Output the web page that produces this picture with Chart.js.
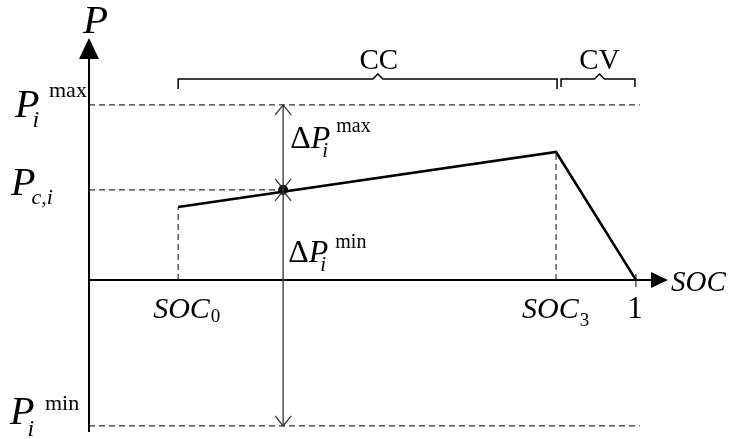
<!DOCTYPE html>
<html>
<head>
<meta charset="utf-8">
<script src="https://cdn.jsdelivr.net/npm/chart.js@4"></script>
<style>
  html, body { margin: 0; padding: 0; background: #fff; }
  #wrap { width: 729px; height: 439px; }
</style>
</head>
<body>
<div id="wrap"><canvas id="c" width="729" height="439"></canvas></div>
<script>
// ---- data ----
const socValues   = [0.163, 0.854, 1.0];   // SOC0, SOC3, 1
const powerValues = [0.417, 0.731, 0.0];   // charging power profile
const socC = 0.355;                        // operating point SOC
const pC   = 0.515;                        // P_c,i
const pMax = 1.0;                          // P_i^max
const pMin = -0.834;                       // P_i^min
const xTickLabels = ['SOC', 'SOC', '1'];
const xTickSubs   = ['0', '3', ''];
const phaseLabels = ['CC', 'CV'];

const X_MIN = 0, X_MAX = 1.055, Y_MIN = -0.869, Y_MAX = 1.371;

const serif = '"Liberation Serif", "Times New Roman", serif';
const F = (size, italic) => (italic ? 'italic ' : '') + size + 'px ' + serif;

const dashStyle = { borderColor: '#333', borderWidth: 1.2, borderDash: [6, 4], pointRadius: 0, fill: false, showLine: true };

const overlay = {
  id: 'overlay',
  afterDatasetsDraw(chart) {
    const ctx = chart.ctx;
    const xs = chart.scales.x, ys = chart.scales.y;
    const X = v => xs.getPixelForValue(v), Y = v => ys.getPixelForValue(v);
    const x0 = X(0), y0 = Y(0);
    ctx.save();
    ctx.strokeStyle = '#000'; ctx.fillStyle = '#000';

    // axes
    ctx.lineWidth = 2;
    ctx.beginPath();
    ctx.moveTo(x0, Y(Y_MIN)); ctx.lineTo(x0, Y(Y_MAX) + 16);
    ctx.moveTo(x0, y0); ctx.lineTo(X(X_MAX) - 14, y0);
    ctx.stroke();
    // arrowheads
    ctx.beginPath();
    ctx.moveTo(x0, Y(Y_MAX) - 2); ctx.lineTo(x0 - 10, Y(Y_MAX) + 19); ctx.lineTo(x0 + 10, Y(Y_MAX) + 19); ctx.closePath();
    ctx.fill();
    ctx.beginPath();
    ctx.moveTo(X(X_MAX) + 2, y0); ctx.lineTo(X(X_MAX) - 15, y0 - 8); ctx.lineTo(X(X_MAX) - 15, y0 + 8); ctx.closePath();
    ctx.fill();

    // tick at SOC = 1
    ctx.lineWidth = 1;
    ctx.beginPath(); ctx.moveTo(X(1), y0 - 6); ctx.lineTo(X(1), y0 + 7); ctx.stroke();

    // double arrows
    const xa = X(socC);
    ctx.strokeStyle = '#333'; ctx.lineWidth = 1.3;
    ctx.beginPath(); ctx.moveTo(xa, Y(pMax)); ctx.lineTo(xa, Y(pMin)); ctx.stroke();
    const head = (y, dir) => {
      ctx.beginPath();
      ctx.moveTo(xa - 8, y + dir * 10); ctx.lineTo(xa, y); ctx.lineTo(xa + 8, y + dir * 10);
      ctx.stroke();
    };
    head(Y(pMax), 1); head(Y(pC) - 1, -1); head(Y(pC) + 1, 1); head(Y(pMin), -1);

    // brackets
    ctx.strokeStyle = '#000'; ctx.lineWidth = 1.5;
    const bracket = (xa1, xa2, frac, yb, drop) => {
      const m = xa1 + frac * (xa2 - xa1);
      ctx.beginPath();
      ctx.moveTo(xa1, yb + drop); ctx.lineTo(xa1, yb);
      ctx.lineTo(m - 5, yb); ctx.lineTo(m, yb - 5); ctx.lineTo(m + 5, yb);
      ctx.lineTo(xa2, yb); ctx.lineTo(xa2, yb + drop);
      ctx.stroke();
      return m;
    };
    const yb = 79;
    const mCC = bracket(X(socValues[0]), X(socValues[1]) + 1, 0.527, yb, 10);
    const mCV = bracket(X(socValues[1]) + 5, X(1) - 1, 0.52, yb, 8);

    // texts
    ctx.fillStyle = '#000';
    ctx.textBaseline = 'alphabetic';
    const txt = (s, x, y, font, align) => { ctx.font = font; ctx.textAlign = align || 'left'; ctx.fillText(s, x, y); return ctx.measureText(s).width; };

    txt(phaseLabels[0], mCC + 1, 69, F(29), 'center');
    txt(phaseLabels[1], mCV, 69, F(29), 'center');

    // P axis title
    txt('P', x0 - 6, 33, F(41, true));
    // SOC axis title
    txt('SOC', X(X_MAX) + 5, 291, F(29, true));

    // P_i^max
    let w = txt('P', 15, Y(pMax) + 12, F(40, true));
    txt('i', 15 + w - 7, Y(pMax) + 22, F(24, true));
    txt('max', 49, Y(pMax) - 8, F(22));
    // P_c,i
    w = txt('P', 11, Y(pC) + 5, F(40, true));
    txt('c,i', 11 + w - 4, Y(pC) + 14, F(22, true));
    // P_i^min
    w = txt('P', 10, Y(pMin) - 2, F(40, true));
    txt('i', 10 + w - 7, Y(pMin) + 10, F(24, true));
    txt('min', 45, Y(pMin) - 16, F(22));

    // ΔP_i^max
    let xd = xa + 7;
    w = txt('\u0394', xd, 148, F(32));
    let w2 = txt('P', xd + w, 148, F(32, true));
    txt('i', xd + w + w2 - 8, 157, F(21, true));
    txt('max', xd + w + w2 + 6, 132, F(20));
    // ΔP_i^min
    w = txt('\u0394', xd - 2, 262, F(32));
    w2 = txt('P', xd - 2 + w, 262, F(32, true));
    txt('i', xd - 2 + w + w2 - 8, 271, F(21, true));
    txt('min', xd - 2 + w + w2 + 7, 248, F(20));

    // x tick labels
    const offs = [-25, -34, 0];
    for (let k = 0; k < socValues.length; k++) {
      const xp = X(socValues[k]);
      if (xTickSubs[k]) {
        const ww = txt(xTickLabels[k], xp + offs[k], 318, F(30, true));
        txt(xTickSubs[k], xp + offs[k] + ww + 1, k === 0 ? 322 : 326, F(19));
      } else {
        txt(xTickLabels[k], xp - 1, 318, F(31), 'center');
      }
    }
    ctx.restore();
  }
};

const ds = [];
// main profile
ds.push({ data: socValues.map((s, i) => ({ x: s, y: powerValues[i] })), borderColor: '#000', borderWidth: 2.6, pointRadius: 0, showLine: true, fill: false });
// horizontal reference lines
ds.push(Object.assign({ data: [{ x: 0, y: pMax }, { x: 1.007, y: pMax }] }, dashStyle));
ds.push(Object.assign({ data: [{ x: 0, y: pC }, { x: socC, y: pC }] }, dashStyle));
ds.push(Object.assign({ data: [{ x: 0, y: pMin }, { x: 1.007, y: pMin }] }, dashStyle));
// vertical drops
ds.push(Object.assign({ data: [{ x: socValues[0], y: 0 }, { x: socValues[0], y: powerValues[0] }] }, dashStyle));
ds.push(Object.assign({ data: [{ x: socValues[1], y: 0 }, { x: socValues[1], y: powerValues[1] }] }, dashStyle));
// operating point
ds.push({ data: [{ x: socC, y: pC }], pointRadius: 4.5, pointBackgroundColor: '#000', pointBorderColor: '#000', showLine: false });

new Chart(document.getElementById('c'), {
  type: 'scatter',
  data: { datasets: ds },
  options: {
    responsive: false,
    animation: false,
    layout: { padding: { left: 89, right: 63, top: 40, bottom: 7 } },
    plugins: { legend: { display: false }, tooltip: { enabled: false } },
    scales: {
      x: { type: 'linear', min: X_MIN, max: X_MAX, display: false },
      y: { type: 'linear', min: Y_MIN, max: Y_MAX, display: false }
    }
  },
  plugins: [overlay]
});
</script>
</body>
</html>
